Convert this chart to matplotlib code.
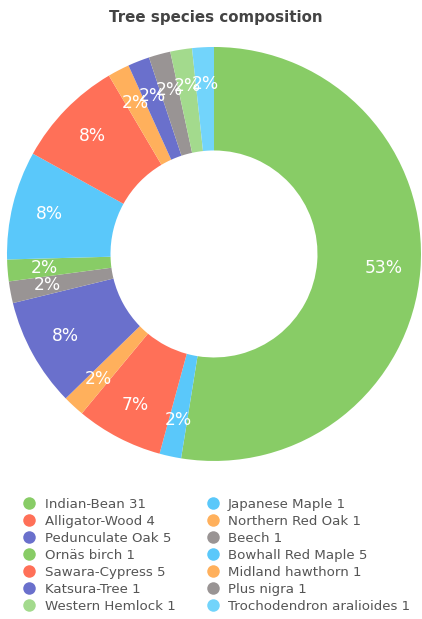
import matplotlib
matplotlib.use("Agg")
import matplotlib.pyplot as plt
from matplotlib.lines import Line2D

species = ["Indian-Bean", "Japanese Maple", "Alligator-Wood", "Northern Red Oak",
           "Pedunculate Oak", "Beech", "Ornäs birch", "Bowhall Red Maple",
           "Sawara-Cypress", "Midland hawthorn", "Katsura-Tree", "Plus nigra",
           "Western Hemlock", "Trochodendron aralioides"]
counts = [31, 1, 4, 1, 5, 1, 1, 5, 5, 1, 1, 1, 1, 1]
colors = ["#88CC66", "#5AC8FA", "#FF7058", "#FFB05C", "#6A70CC", "#999494",
          "#88CC66", "#5AC8FA", "#FF7058", "#FFB05C", "#6A70CC", "#999494",
          "#A3DA8D", "#72D4FB"]

fig = plt.figure(figsize=(4.22, 6.19), dpi=100)
fig.patch.set_facecolor("white")
ax = fig.add_axes([0.0166, 0.2553, 0.981, 0.6688])

wedges, texts, autotexts = ax.pie(
    counts, colors=colors, startangle=90, counterclock=False,
    autopct=lambda p: f"{p:.0f}%", pctdistance=0.82,
    wedgeprops=dict(width=0.5, edgecolor="none"),
    textprops=dict(color="white", fontsize=12.3))
ax.set_aspect("equal")
ax.set_xlim(-1, 1)
ax.set_ylim(-1, 1)

fig.text(0.512, 0.971, "Tree species composition", ha="center", va="center",
         fontsize=10.8, color="#444444", fontweight="bold")

# legend: row-major order in two columns
n = len(species)
order = [i for i in range(0, n, 2)] + [i for i in range(1, n, 2)]
handles = [Line2D([], [], marker="o", linestyle="none", markersize=9,
                  markerfacecolor=colors[i], markeredgecolor="none")
           for i in order]
labels = [f"{species[i]} {counts[i]}" for i in order]
leg = fig.legend(handles, labels, ncol=2, loc="upper left",
                 bbox_to_anchor=(0.038, 0.204), frameon=False,
                 fontsize=9.6, handletextpad=0.55, labelspacing=0.3,
                 columnspacing=2.2, handlelength=1.2, borderaxespad=0)
for t in leg.get_texts():
    t.set_color("#555555")

fig.savefig("out.png", dpi=100)
